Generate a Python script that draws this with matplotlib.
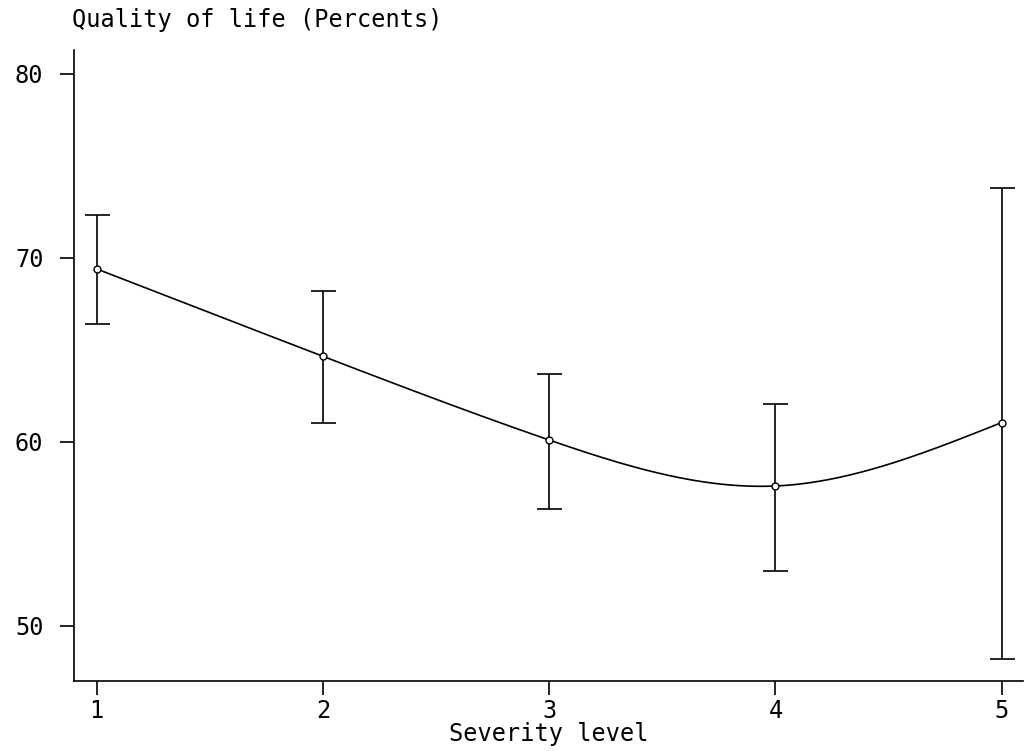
import numpy as np
import matplotlib
matplotlib.use("Agg")
import matplotlib.pyplot as plt

severity = [1, 2, 3, 4, 5]
qol_mean = [69.4, 64.65, 60.1, 57.6, 61.05]
qol_upper = [72.35, 68.2, 63.7, 62.05, 73.8]
qol_lower = [66.4, 61.0, 56.35, 53.0, 48.2]


def natural_spline(x, y, n=400):
    """Natural cubic spline through the points, evaluated on a fine grid."""
    x = np.asarray(x, float)
    y = np.asarray(y, float)
    k = len(x)
    h = np.diff(x)
    A = np.zeros((k, k))
    b = np.zeros(k)
    A[0, 0] = A[-1, -1] = 1
    for i in range(1, k - 1):
        A[i, i - 1] = h[i - 1]
        A[i, i] = 2 * (h[i - 1] + h[i])
        A[i, i + 1] = h[i]
        b[i] = 6 * ((y[i + 1] - y[i]) / h[i] - (y[i] - y[i - 1]) / h[i - 1])
    M = np.linalg.solve(A, b)
    xs = np.linspace(x[0], x[-1], n)
    idx = np.clip(np.searchsorted(x, xs) - 1, 0, k - 2)
    x0, x1 = x[idx], x[idx + 1]
    hh = x1 - x0
    t0 = x1 - xs
    t1 = xs - x0
    ys = (M[idx] * t0**3 + M[idx + 1] * t1**3) / (6 * hh) \
        + (y[idx] / hh - M[idx] * hh / 6) * t0 \
        + (y[idx + 1] / hh - M[idx + 1] * hh / 6) * t1
    return xs, ys


plt.rcParams['font.family'] = ['DejaVu Sans Mono']

fig = plt.figure(figsize=(10.28, 7.51), dpi=100)
ax = fig.add_axes([74 / 1028, 70 / 751, (1023 - 74) / 1028, (681 - 50) / 751])

xs, ys = natural_spline(severity, qol_mean)
ax.plot(xs, ys, color='black', linewidth=1.2)

mean = np.array(qol_mean)
yerr = [mean - np.array(qol_lower), np.array(qol_upper) - mean]
ax.errorbar(severity, qol_mean, yerr=yerr, fmt='none', ecolor='black',
            elinewidth=1.2, capsize=9, capthick=1.2)
ax.plot(severity, qol_mean, 'o', markersize=5, markerfacecolor='white',
        markeredgecolor='black', markeredgewidth=1.0, zorder=5)

ax.set_xlim(0.9, 5.094)
ax.set_ylim(47.0, 81.3)
ax.set_xticks(severity)
ax.set_yticks([50, 60, 70, 80])

ax.spines['top'].set_visible(False)
ax.spines['right'].set_visible(False)
for s in ['left', 'bottom']:
    ax.spines[s].set_linewidth(1.2)
ax.tick_params(direction='out', length=10, width=1.2, labelsize=17)
ax.tick_params(axis='y', pad=12)
ax.tick_params(axis='x', pad=3)

ax.set_xlabel('Severity level', fontsize=17, labelpad=-1)
fig.text(72 / 1028, 1 - 20 / 751, 'Quality of life (Percents)', fontsize=17,
         ha='left', va='center')

fig.savefig('out.png', dpi=100)
